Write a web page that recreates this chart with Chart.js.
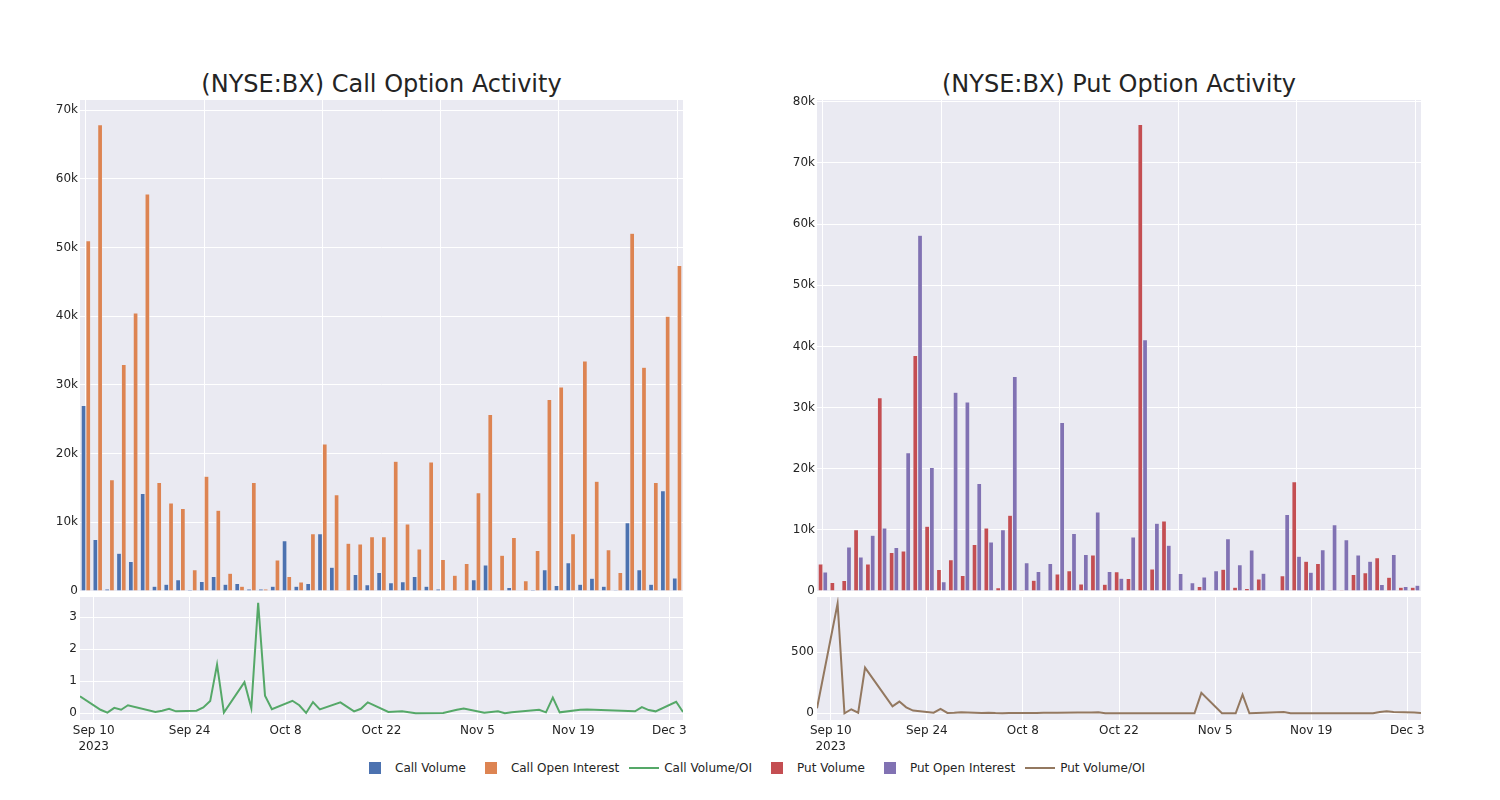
<!DOCTYPE html>
<html>
<head>
<meta charset="utf-8">
<script src="https://cdn.jsdelivr.net/npm/chart.js@4.4.0/dist/chart.umd.min.js"></script>
<style>
  body { margin: 0; background: #fff; }
  #page { position: relative; width: 1500px; height: 800px; font-family: "DejaVu Sans", sans-serif; color: #242424; overflow: hidden; }
  canvas { position: absolute; }
  .title { position: absolute; top: 70px; font-size: 24px; line-height: 28px; text-align: center; color: #242424; white-space: nowrap; }
  #legend { position: absolute; top: 760px; left: 0; width: 1500px; display: flex; justify-content: center; gap: 5px; font-size: 12px; line-height: 16px; }
  .item { display: flex; align-items: center; }
  .sym { width: 40px; height: 16px; position: relative; }
  .sq { position: absolute; left: 14px; top: 2px; width: 12px; height: 12px; }
  .ln { position: absolute; left: 5px; top: 7px; width: 30px; height: 2px; }
</style>
</head>
<body>
<div id="page">
  <div class="title" style="left:80px;width:603px">(NYSE:BX) Call Option Activity</div>
  <div class="title" style="left:817px;width:604px">(NYSE:BX) Put Option Activity</div>
  <canvas id="callBars" width="700" height="513" style="left:0;top:88px"></canvas>
  <canvas id="callRatio" width="700" height="175" style="left:0;top:585px"></canvas>
  <canvas id="putBars" width="701" height="513" style="left:737px;top:88px"></canvas>
  <canvas id="putRatio" width="701" height="175" style="left:737px;top:585px"></canvas>
  <div id="legend"></div>
</div>
<script>
// trading days in the data set
const dates = [
  '2023-09-08', '2023-09-11', '2023-09-12', '2023-09-13', '2023-09-14', '2023-09-15',
  '2023-09-19', '2023-09-20', '2023-09-21', '2023-09-22', '2023-09-25', '2023-09-26',
  '2023-09-27', '2023-09-28', '2023-09-29', '2023-10-02', '2023-10-03', '2023-10-04',
  '2023-10-05', '2023-10-06', '2023-10-09', '2023-10-10', '2023-10-11', '2023-10-12',
  '2023-10-13', '2023-10-16', '2023-10-18', '2023-10-19', '2023-10-20', '2023-10-23',
  '2023-10-25', '2023-10-27', '2023-10-31', '2023-11-02', '2023-11-03', '2023-11-06',
  '2023-11-08', '2023-11-09', '2023-11-10', '2023-11-14', '2023-11-15', '2023-11-16',
  '2023-11-17', '2023-11-20', '2023-11-21', '2023-11-28', '2023-11-29', '2023-11-30',
  '2023-12-01', '2023-12-04', '2023-12-05'
];

const callVolume = [
  27000, 7500, 300, 5500, 4300, 14200, 700, 1000, 1650, 200,
  1400, 2100, 1000, 1100, 300, 300, 700, 7300, 700, 1100,
  8350, 3450, 100, 2400, 900, 2700, 1200, 1350, 2100, 700,
  300, 50, 50, 1650, 3800, 100, 500, 0, 200, 3100,
  800, 4100, 1000, 1850, 700, 150, 9950, 3100, 1000, 14600, 1900
];
const callOpenInterest = [
  51000, 67900, 16200, 33000, 40500, 57800, 15800, 12800, 12000, 3100,
  16700, 11750, 2600, 700, 15800, 300, 4500, 2100, 1300, 8350,
  21400, 14000, 6950, 6850, 7900, 7900, 18900, 9750, 6100, 18800,
  4600, 2300, 4000, 14300, 25700, 5200, 7800, 1500, 5900, 27900,
  29700, 8350, 33500, 16000, 6000, 2700, 52100, 32600, 15800, 40000, 47400
];
const callVolOI = [
  0.53, 0.11, 0.02, 0.17, 0.11, 0.25, 0.04, 0.08, 0.14, 0.06,
  0.08, 0.18, 0.38, 1.52, 0.02, 0.97, 0.16, 3.45, 0.55, 0.13,
  0.39, 0.25, 0.01, 0.35, 0.12, 0.34, 0.06, 0.14, 0.34, 0.04,
  0.06, 0.0, 0.01, 0.11, 0.15, 0.02, 0.06, 0.0, 0.03, 0.11,
  0.03, 0.49, 0.03, 0.11, 0.12, 0.06, 0.19, 0.1, 0.06, 0.36, 0.04
];

const putVolume = [
  4400, 1400, 1700, 10000, 4400, 31600, 6300, 6550, 38500, 10600,
  3500, 5100, 2550, 7600, 10300, 550, 12400, 200, 1750, 100,
  2800, 3300, 1150, 5900, 1100, 3150, 2050, 76300, 3600, 11450,
  0, 100, 750, 100, 3550, 600, 400, 1950, 0, 2500,
  17850, 4850, 4500, 200, 200, 2700, 3000, 5450, 2250, 600, 600
];
const putOpenInterest = [
  3100, 100, 7200, 5550, 9100, 10300, 7100, 22600, 58200, 20200,
  1500, 32500, 30900, 17600, 8000, 10000, 35100, 4600, 3200, 4500,
  27550, 9400, 5950, 12900, 3200, 2100, 8850, 41100, 11100, 7500,
  2850, 1350, 2300, 3300, 8550, 4300, 6700, 2900, 0, 12500,
  5700, 3050, 6750, 10850, 8400, 5900, 4850, 1050, 5950, 750, 950
];
const putVolOI = [
  41, 900, 0, 33, 5, 374, 57, 96, 49, 22,
  5, 36, 3, 4, 8, 2, 5, 2, 1, 2,
  3, 3, 4, 5, 5, 6, 7, 9, 0, 0,
  0, 0, 0, 0, 167, 0, 0, 153, 0, 8,
  10, 0, 0, 0, 0, 0, 10, 16, 10, 6, 2
];

const tickDates = ['2023-09-10', '2023-09-24', '2023-10-08', '2023-10-22', '2023-11-05', '2023-11-19', '2023-12-03'];
const tickLabels = ['Sep 10', 'Sep 24', 'Oct 8', 'Oct 22', 'Nov 5', 'Nov 19', 'Dec 3'];

const colors = {
  callVolume: '#4C72B0', callOI: '#DD8452', callRatio: '#55A868',
  putVolume: '#C44E52', putOI: '#8172B3', putRatio: '#937860'
};
const textColor = '#242424';
const font = { family: '"DejaVu Sans", sans-serif', size: 12 };

// days from the first tick date, for the linear x axis of the ratio panels
const day0 = Date.parse(tickDates[0] + 'T00:00:00Z');
const toDay = d => (Date.parse(d + 'T00:00:00Z') - day0) / 86400000;

const plotBg = {
  id: 'plotBg',
  beforeDraw(chart) {
    const { ctx, chartArea: a } = chart;
    ctx.save();
    ctx.fillStyle = '#EAEAF2';
    ctx.fillRect(a.left, a.top, a.right - a.left, a.bottom - a.top);
    ctx.restore();
  }
};

const fmtK = v => v === 0 ? '0' : (v / 1000) + 'k';

function barChart(id, labels, a, b, colA, colB, yMax) {
  const yTicks = [];
  for (let v = 0; v <= yMax; v += 10000) yTicks.push(v);
  new Chart(document.getElementById(id), {
    type: 'bar',
    data: {
      labels,
      datasets: [
        { data: a, backgroundColor: colA, borderColor: '#EAEAF2', borderWidth: 0.5 },
        { data: b, backgroundColor: colB, borderColor: '#EAEAF2', borderWidth: 0.5 }
      ]
    },
    options: {
      responsive: false,
      animation: false,
      layout: { padding: { top: 12, right: 17, bottom: 10, left: 0 } },
      datasets: { bar: { categoryPercentage: 0.8, barPercentage: 1.0 } },
      plugins: { legend: { display: false }, tooltip: { enabled: false } },
      scales: {
        x: {
          ticks: { display: false, autoSkip: false },
          grid: {
            offset: false, drawTicks: false, lineWidth: 1,
            color: ctx => ctx.index % 10 === 0 ? '#ffffff' : 'rgba(0,0,0,0)'
          },
          border: { display: false },
          afterFit: s => { s.height = 0; }
        },
        y: {
          min: 0, max: yMax,
          afterBuildTicks: s => { s.ticks = yTicks.map(v => ({ value: v })); },
          ticks: { callback: fmtK, color: textColor, font, padding: 2 },
          grid: { color: '#ffffff', drawTicks: false },
          border: { display: false },
          afterFit: s => { s.width = 80; }
        }
      }
    },
    plugins: [plotBg]
  });
}

function ratioChart(id, values, color, yMin, yMax, yTicks) {
  new Chart(document.getElementById(id), {
    type: 'line',
    data: {
      datasets: [{
        data: dates.map((d, i) => ({ x: toDay(d), y: values[i] })),
        borderColor: color, borderWidth: 2, pointRadius: 0, tension: 0, fill: false
      }]
    },
    options: {
      responsive: false,
      animation: false,
      layout: { padding: { top: 12, right: 17, bottom: 0, left: 0 } },
      plugins: { legend: { display: false }, tooltip: { enabled: false } },
      scales: {
        x: {
          type: 'linear',
          min: toDay(dates[0]), max: toDay(dates[dates.length - 1]),
          afterBuildTicks: s => { s.ticks = tickDates.map(d => ({ value: toDay(d) })); },
          ticks: {
            autoSkip: false, maxRotation: 0, color: textColor, padding: 2,
            font: { ...font, lineHeight: 1.4 },
            callback: (v, i) => i === 0 ? [tickLabels[0], '2023'] : tickLabels[i]
          },
          grid: { color: '#ffffff', drawTicks: false },
          border: { display: false },
          afterFit: s => { s.height = 40; }
        },
        y: {
          min: yMin, max: yMax,
          afterBuildTicks: s => { s.ticks = yTicks.map(v => ({ value: v })); },
          ticks: { color: textColor, font, padding: 3 },
          grid: { color: '#ffffff', drawTicks: false },
          border: { display: false },
          afterFit: s => { s.width = 80; }
        }
      }
    },
    plugins: [plotBg]
  });
}

barChart('callBars', dates, callVolume, callOpenInterest, colors.callVolume, colors.callOI, 71500);
ratioChart('callRatio', callVolOI, colors.callRatio, -0.21, 3.63, [0, 1, 2, 3]);
barChart('putBars', dates, putVolume, putOpenInterest, colors.putVolume, colors.putOI, 80300);
ratioChart('putRatio', putVolOI, colors.putRatio, -55, 953, [0, 500]);

// shared legend under both panels
const legendItems = [
  ['Call Volume', colors.callVolume, 'sq'],
  ['Call Open Interest', colors.callOI, 'sq'],
  ['Call Volume/OI', colors.callRatio, 'ln'],
  ['Put Volume', colors.putVolume, 'sq'],
  ['Put Open Interest', colors.putOI, 'sq'],
  ['Put Volume/OI', colors.putRatio, 'ln']
];
const legend = document.getElementById('legend');
legendItems.forEach(([name, color, kind]) => {
  const item = document.createElement('div');
  item.className = 'item';
  item.innerHTML = `<div class="sym"><div class="${kind}" style="background:${color}"></div></div><span>${name}</span>`;
  legend.appendChild(item);
});
</script>
</body>
</html>
